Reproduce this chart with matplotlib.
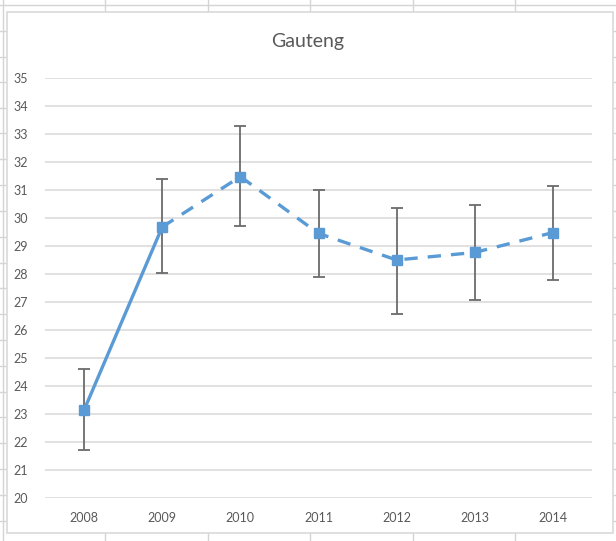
import numpy as np
import matplotlib.pyplot as plt
from matplotlib.lines import Line2D
from matplotlib.patches import Rectangle

years = ['2008', '2009', '2010', '2011', '2012', '2013', '2014']
values = [23.14, 29.68, 31.48, 29.45, 28.5, 28.77, 29.48]
err_low = [21.71, 28.04, 29.73, 27.89, 26.56, 27.08, 27.78]
err_high = [24.6, 31.39, 33.3, 30.99, 30.36, 30.48, 31.15]

W, H = 616, 541
plt.rcParams['font.family'] = ['Lato', 'DejaVu Sans']

fig = plt.figure(figsize=(W / 100, H / 100), dpi=100)


def fx(px):
    return px / W


def fy(py):
    return 1 - py / H


# spreadsheet background lines (behind the chart area)
grid_c = '#d4d4d4'
for x in [3, 105, 208, 310, 413, 515]:
    fig.add_artist(Line2D([fx(x), fx(x)], [0, 1], color=grid_c, lw=1, zorder=-3))
for y in [5, 31, 57, 82, 108, 133, 159, 185, 211, 237, 263, 288, 314, 340, 366,
          392, 417, 443, 469, 495, 521]:
    fig.add_artist(Line2D([0, 1], [fy(y), fy(y)], color=grid_c, lw=1, zorder=-3))

# chart area
fig.add_artist(Rectangle((fx(6.5), fy(533)), fx(606), 521 / H,
                         facecolor='white', edgecolor='#d9d9d9', lw=1.2, zorder=-2))

ax = fig.add_axes([fx(45), fy(498), fx(547), 420 / H])
ax.set_facecolor('none')

x = np.arange(len(years))
vals = np.array(values)
yerr = np.array([vals - np.array(err_low), np.array(err_high) - vals])

blue = '#5b9bd5'
ax.errorbar(x, vals, yerr=yerr, fmt='none', ecolor='#6b6b6b', elinewidth=1.3,
            capsize=4.3, capthick=1.3, zorder=2)
ax.plot(x[:2], vals[:2], color=blue, lw=2.4, zorder=3)
ax.plot(x[1:], vals[1:], color=blue, lw=2.4, dashes=(4, 3), zorder=3)
ax.plot(x, vals, linestyle='none', marker='s', markersize=6.5, color=blue, zorder=4)

ax.set_xlim(-0.5, len(years) - 0.5)
ax.set_ylim(20, 35)
ax.set_yticks(range(20, 36))
ax.set_xticks(x)
ax.set_xticklabels(years)
ax.grid(axis='y', color='#d9d9d9', lw=1.1)
ax.set_axisbelow(True)
for s in ax.spines.values():
    s.set_visible(False)
ax.tick_params(length=0, labelsize=9, colors='#595959')
ax.tick_params(axis='x', pad=10)
ax.tick_params(axis='y', pad=12)

fig.text(0.5, fy(42), 'Gauteng', ha='center', va='center', fontsize=14, color='#595959')

fig.savefig('out.png', dpi=100)
